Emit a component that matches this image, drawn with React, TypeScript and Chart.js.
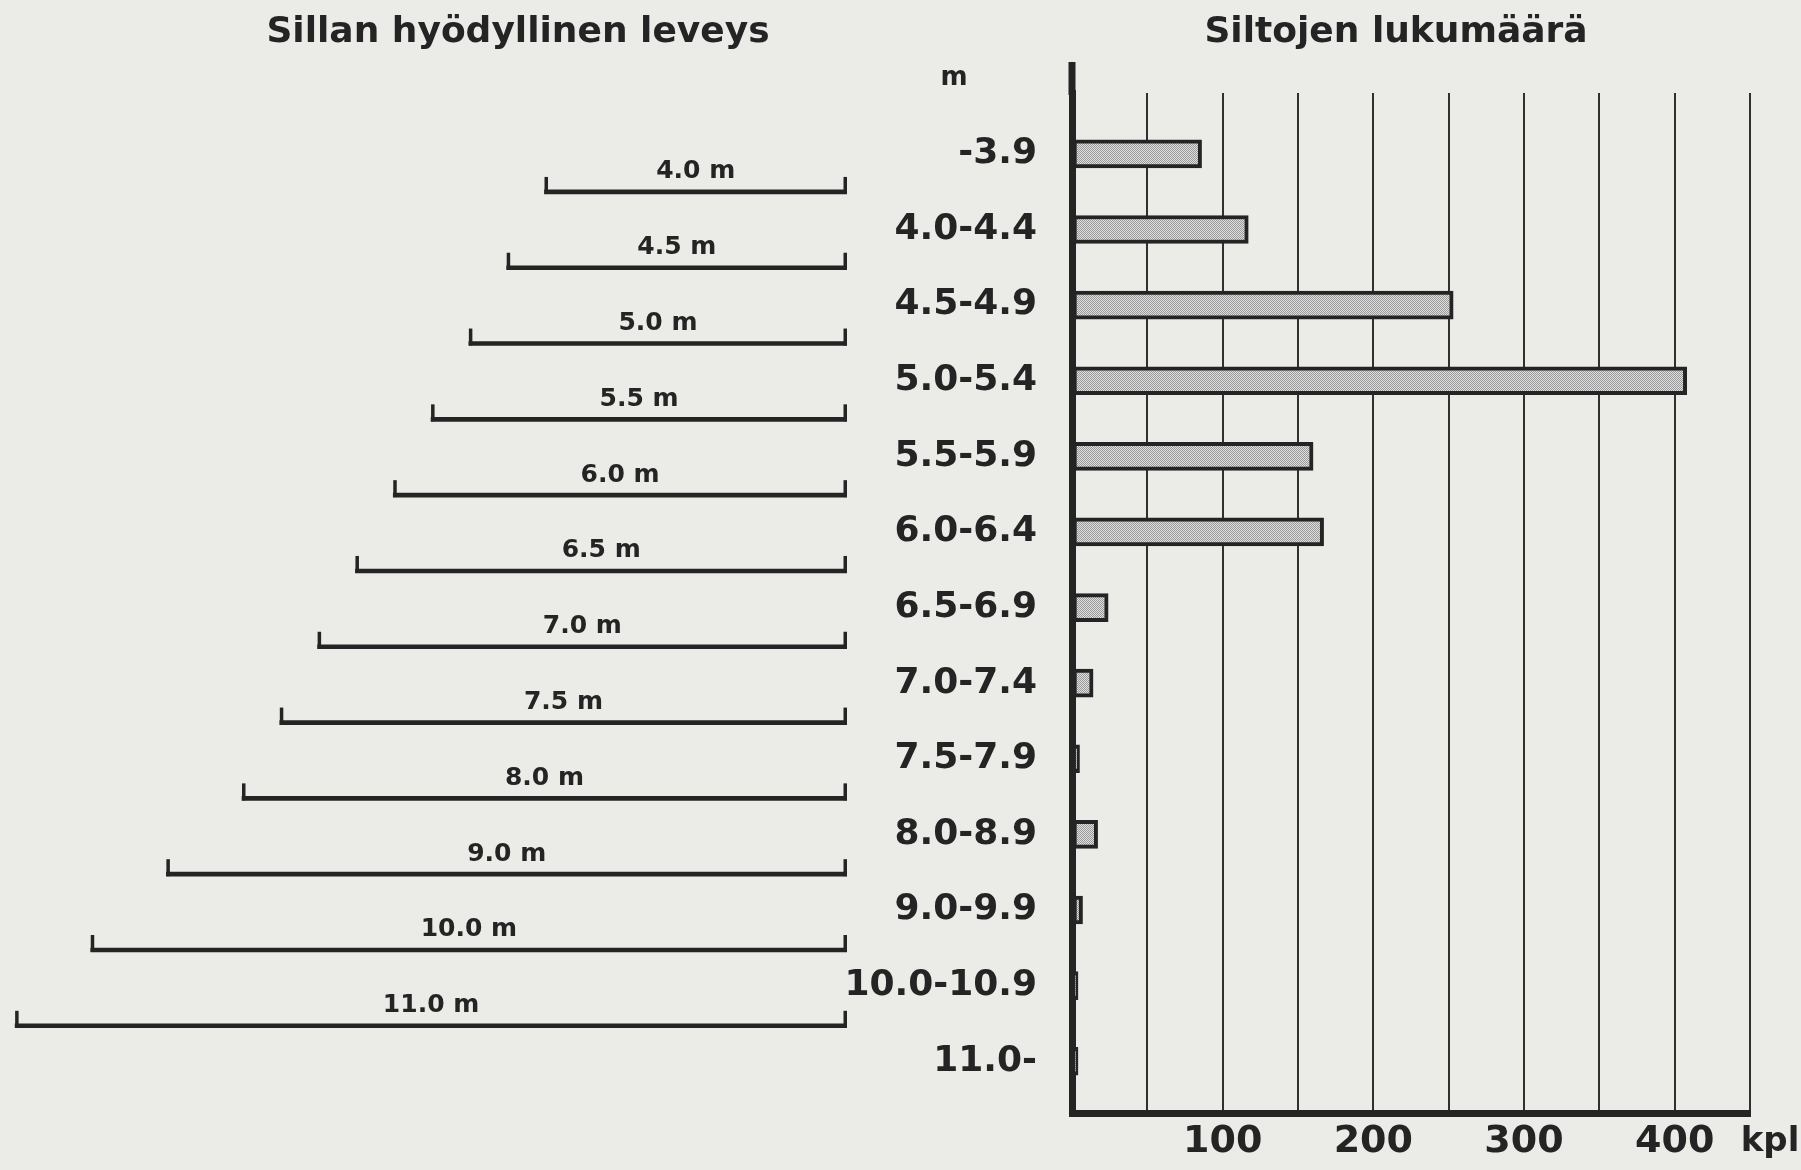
import React, { useEffect, useRef } from "react";
import { Chart, registerables } from "chart.js";

Chart.register(...registerables);

// ---- data ----
const widthClasses = [
  "-3.9", "4.0-4.4", "4.5-4.9", "5.0-5.4", "5.5-5.9", "6.0-6.4", "6.5-6.9",
  "7.0-7.4", "7.5-7.9", "8.0-8.9", "9.0-9.9", "10.0-10.9", "11.0-",
];
const bridgeCounts = [86, 117, 253, 408, 160, 167, 24, 14, 5, 17, 7, 4, 4];
const countTickValues = [100, 200, 300, 400];
const countUnit = "kpl";
const widthUnit = "m";
const bracketWidths = [4.0, 4.5, 5.0, 5.5, 6.0, 6.5, 7.0, 7.5, 8.0, 9.0, 10.0, 11.0];
const bracketLabels = [
  "4.0 m", "4.5 m", "5.0 m", "5.5 m", "6.0 m", "6.5 m",
  "7.0 m", "7.5 m", "8.0 m", "9.0 m", "10.0 m", "11.0 m",
];
const leftTitle = "Sillan hyödyllinen leveys";
const rightTitle = "Siltojen lukumäärä";

// ---- layout / style ----
const PAGE_W = 1801;
const PAGE_H = 1170;
const Y_MIN = -0.805;
const Y_MAX = 12.69;
const INK = "#242424";
const FONT = "'DejaVu Sans', sans-serif";
const LEFT_W = 1036;
const LEFT_AREA_RIGHT = 847;
const RIGHT_L = 820;
const RIGHT_W = 1152;
const AREA_LEFT = 1072;
const AREA_RIGHT = 1750;

const titleOpts = (text: string) => ({
  display: true,
  text,
  color: INK,
  font: { family: FONT, size: 36, weight: "bold" as const },
  padding: { top: 11, bottom: 38.8 },
});

function makePattern(): CanvasPattern | string {
  const c = document.createElement("canvas");
  c.width = 2;
  c.height = 2;
  const g = c.getContext("2d");
  if (!g) return "#bcbcbc";
  g.fillStyle = "#dededc";
  g.fillRect(0, 0, 2, 2);
  g.fillStyle = "#9a9a9a";
  g.fillRect(0, 0, 1, 1);
  g.fillRect(1, 1, 1, 1);
  const p = g.createPattern(c, "repeat");
  return p || "#bcbcbc";
}

export default function App() {
  const leftRef = useRef<HTMLCanvasElement | null>(null);
  const rightRef = useRef<HTMLCanvasElement | null>(null);

  useEffect(() => {
    if (!leftRef.current || !rightRef.current) return;

    const bracketPlugin = {
      id: "bracketEnds",
      afterDatasetsDraw(chart: any) {
        const ctx = chart.ctx;
        const meta = chart.getDatasetMeta(0);
        meta.data.forEach((bar: any, j: number) => {
          const { x, y, base } = bar.getProps(["x", "y", "base"], true);
          ctx.save();
          ctx.strokeStyle = INK;
          ctx.lineWidth = 3.5;
          const ends = [Math.min(x, base) + 1.75, Math.max(x, base) - 1.75];
          ends.forEach((px) => {
            ctx.beginPath();
            ctx.moveTo(px, y + 2);
            ctx.lineTo(px, y - 15);
            ctx.stroke();
          });
          ctx.font = `bold 25px ${FONT}`;
          ctx.textAlign = "center";
          ctx.textBaseline = "middle";
          ctx.fillStyle = INK;
          ctx.fillText(bracketLabels[j], (x + base) / 2, y - 20);
          ctx.restore();
        });
      },
    };

    const left = new Chart(leftRef.current, {
      type: "bar",
      data: {
        datasets: [
          {
            data: bracketWidths.map((w, j) => ({ x: w, y: j + 0.5 })),
            backgroundColor: INK,
            borderWidth: 0,
            barThickness: 4,
          },
        ],
      },
      options: {
        responsive: false,
        animation: false,
        events: [],
        indexAxis: "y",
        layout: { padding: { left: 0, right: 0, top: 0, bottom: 54 } },
        plugins: {
          legend: { display: false },
          tooltip: { enabled: false },
          title: titleOpts(leftTitle),
        },
        scales: {
          x: { type: "linear", reverse: true, min: 0, max: 11.2, display: false },
          y: {
            type: "linear",
            reverse: true,
            offset: false,
            min: Y_MIN,
            max: Y_MAX,
            position: "right",
            ticks: { display: false },
            grid: { display: false, drawTicks: false },
            border: { display: false },
            afterFit: (s: any) => {
              s.width = LEFT_W - LEFT_AREA_RIGHT;
            },
          },
        },
      } as any,
      plugins: [bracketPlugin],
    });

    const axisExtras = {
      id: "axisExtras",
      afterDraw(chart: any) {
        const ctx = chart.ctx;
        const xs = chart.scales.x;
        const ys = chart.scales.y;
        const x0 = xs.getPixelForValue(0);
        const top = chart.chartArea.top;
        ctx.save();
        ctx.strokeStyle = INK;
        ctx.lineWidth = 7;
        ctx.beginPath();
        ctx.moveTo(x0, top - 31);
        ctx.lineTo(x0, top + 2);
        ctx.stroke();
        ctx.fillStyle = INK;
        ctx.textAlign = "center";
        ctx.textBaseline = "middle";
        ctx.font = `bold 26px ${FONT}`;
        ctx.fillText(widthUnit, x0 - 118, ys.getPixelForValue(-1));
        ctx.font = `bold 34px ${FONT}`;
        ctx.fillText(countUnit, xs.right + 20, xs.top + 29);
        ctx.restore();
      },
    };

    const right = new Chart(rightRef.current, {
      type: "bar",
      data: {
        datasets: [
          {
            data: bridgeCounts.map((v, i) => ({ x: v, y: i })),
            backgroundColor: makePattern() as any,
            borderColor: INK,
            borderWidth: 4,
            borderSkipped: false,
            barThickness: 28,
            yAxisID: "y",
          },
        ],
      },
      options: {
        responsive: false,
        animation: false,
        events: [],
        indexAxis: "y",
        layout: { padding: 0 },
        plugins: {
          legend: { display: false },
          tooltip: { enabled: false },
          title: titleOpts(rightTitle),
        },
        scales: {
          x: {
            type: "linear",
            min: 0,
            max: 450,
            position: "bottom",
            grid: { color: "#303030", lineWidth: 2, drawTicks: false },
            border: { color: INK, width: 7 },
            ticks: {
              stepSize: 50,
              maxTicksLimit: 30,
              autoSkip: false,
              maxRotation: 0,
              padding: 6,
              color: INK,
              font: { family: FONT, size: 38, weight: "bold" },
              callback: (v: any) => (countTickValues.includes(Number(v)) ? String(v) : ""),
            },
            afterFit: (s: any) => {
              s.height = 54;
            },
          },
          y: {
            type: "linear",
            reverse: true,
            offset: false,
            min: Y_MIN,
            max: Y_MAX,
            position: "left",
            z: 1,
            grid: { display: false, drawTicks: false },
            border: { color: INK, width: 7 },
            ticks: {
              stepSize: 1,
              maxTicksLimit: 30,
              includeBounds: false,
              autoSkip: false,
              padding: 35,
              color: INK,
              font: { family: FONT, size: 36, weight: "bold" },
              callback: (v: any) => {
                const n = Number(v);
                return Number.isInteger(n) && n >= 0 && n < widthClasses.length ? widthClasses[n] : "";
              },
            },
            afterFit: (s: any) => {
              s.width = AREA_LEFT - RIGHT_L;
            },
          },
          yRight: {
            type: "linear",
            position: "right",
            min: 0,
            max: 1,
            ticks: { display: false },
            grid: { display: false, drawTicks: false },
            border: { display: false },
            afterFit: (s: any) => {
              s.width = RIGHT_L + RIGHT_W - AREA_RIGHT;
            },
          },
        },
      } as any,
      plugins: [axisExtras],
    });

    return () => {
      left.destroy();
      right.destroy();
    };
  }, []);

  return (
    <div
      style={{
        position: "fixed",
        left: 0,
        top: 0,
        width: PAGE_W,
        height: PAGE_H,
        overflow: "hidden",
        background: "#ebebe8",
      }}
    >
      <canvas
        ref={leftRef}
        width={LEFT_W}
        height={PAGE_H}
        style={{ position: "absolute", left: 0, top: 0, width: LEFT_W, height: PAGE_H }}
      />
      <canvas
        ref={rightRef}
        width={RIGHT_W}
        height={PAGE_H}
        style={{ position: "absolute", left: RIGHT_L, top: 0, width: RIGHT_W, height: PAGE_H }}
      />
    </div>
  );
}
